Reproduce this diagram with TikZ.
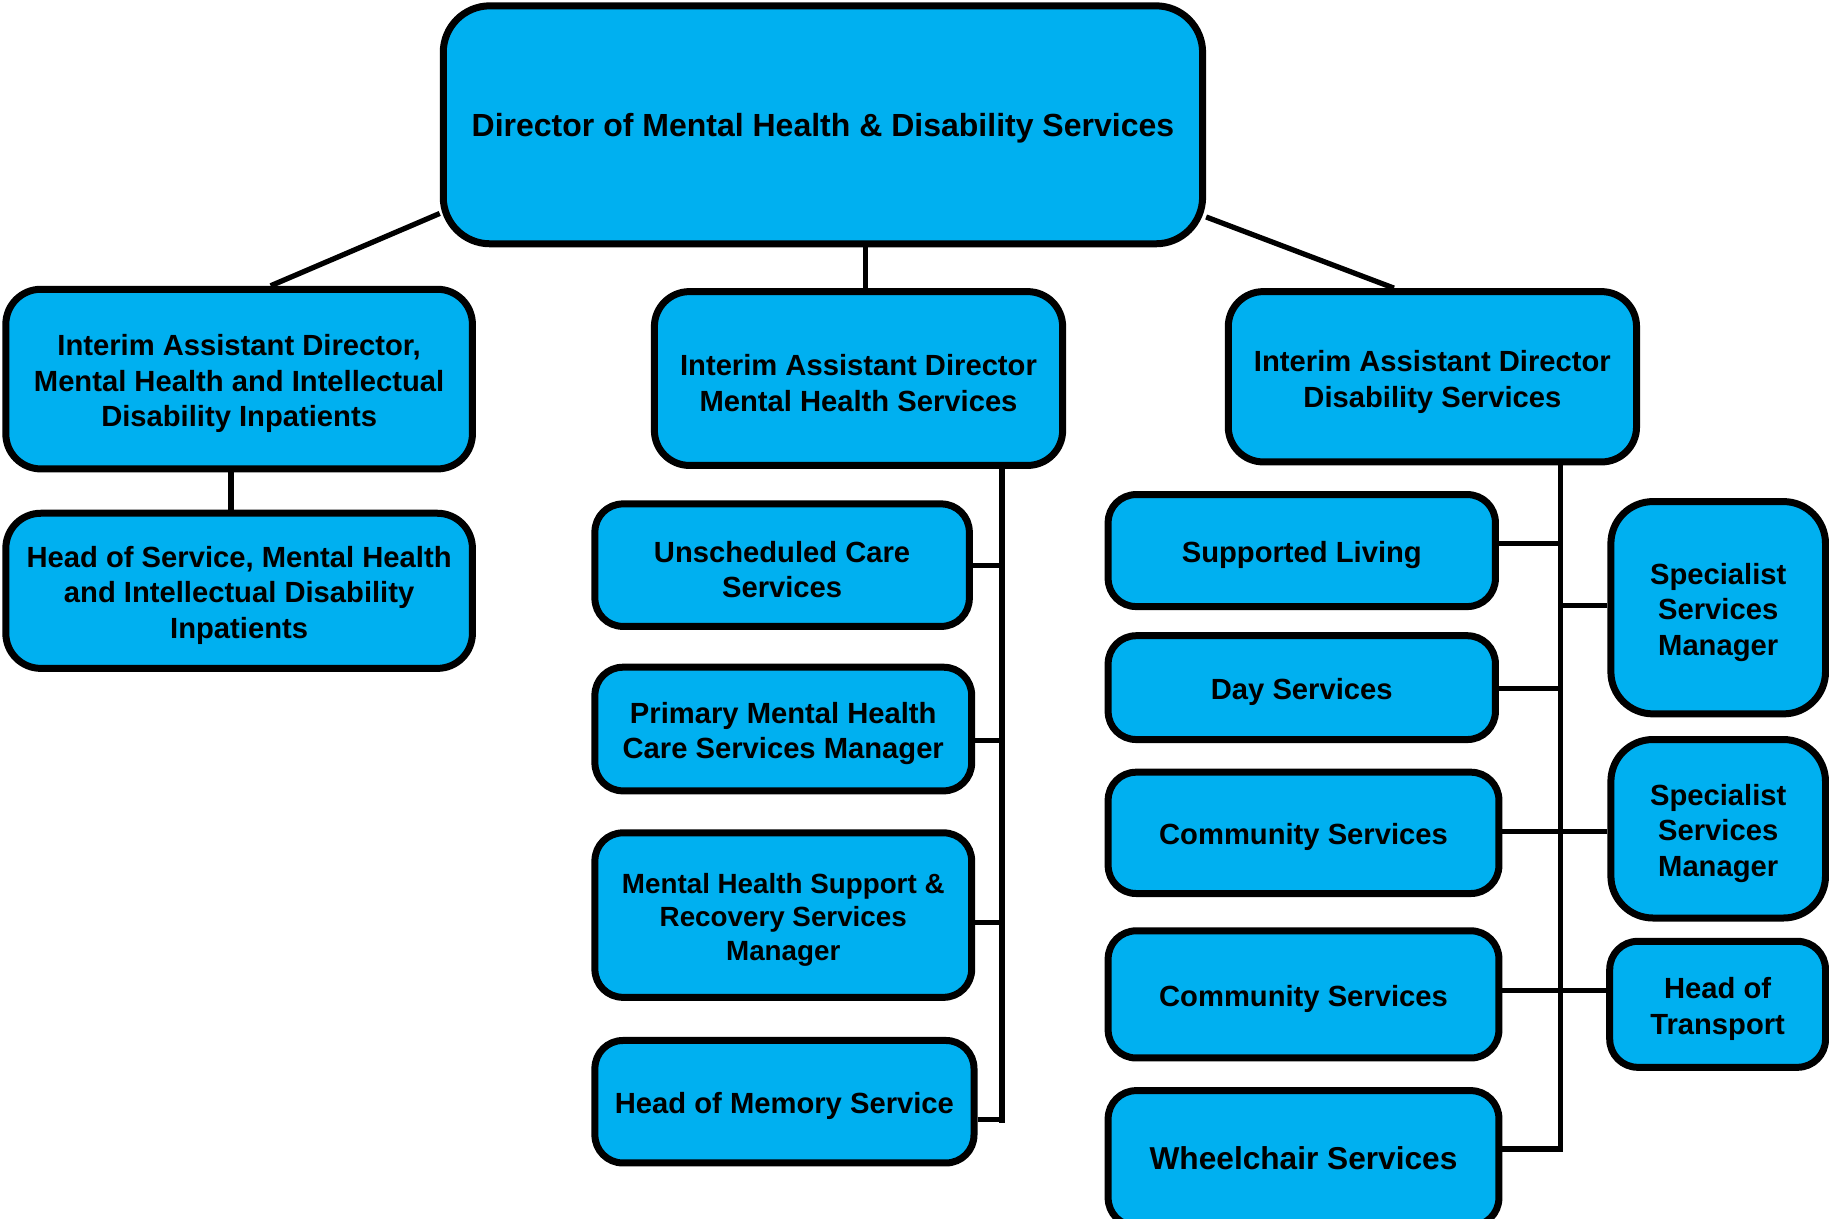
\documentclass[tikz,border=0pt]{standalone}
\usepackage{fontspec}
\setmainfont{Liberation Sans}
\usepackage{xcolor}
\definecolor{orgblue}{RGB}{0,176,240}
\newlength\gridu
\setlength\gridu{0.011665cm}
\newcommand\uplift[1][8.6pt]{\rule{0pt}{#1}}

\begin{document}
\begin{tikzpicture}[x=0.011665cm, y=-0.011665cm,
  role/.style={draw, fill=orgblue, line width=6\gridu, rounded corners=24\gridu, inner sep=0pt, align=center, font=\bfseries\fontsize{8.3}{10.1}\selectfont},
  link/.style={line width=4.5\gridu}]
\useasboundingbox (0,0) rectangle (1568,1045);
\node[role, minimum width=651\gridu, minimum height=204\gridu, rounded corners=40\gridu, font=\bfseries\fontsize{9.1}{11}\selectfont] (dir) at (705.5,107) {\uplift[8.8pt]Director of Mental Health \& Disability Services};
\node[role, minimum width=400\gridu, minimum height=154\gridu, rounded corners=30\gridu] (ipt) at (205,325) {\uplift Interim Assistant Director,\\Mental Health and Intellectual\\Disability Inpatients};
\node[role, minimum width=400\gridu, minimum height=133\gridu, rounded corners=30\gridu] (hos) at (205,506.5) {\uplift Head of Service, Mental Health\\and Intellectual Disability\\Inpatients};
\node[role, minimum width=350\gridu, minimum height=149\gridu, rounded corners=30\gridu] (mhs) at (736,324.5) {\uplift Interim Assistant Director\\Mental Health Services};
\node[role, minimum width=350\gridu, minimum height=146\gridu, rounded corners=30\gridu] (dis) at (1228,323) {\uplift[9pt]Interim Assistant Director\\Disability Services};
% mental health services
\node[role, minimum width=321\gridu, minimum height=105\gridu] (usc) at (670.5,484.5) {\uplift Unscheduled Care\\Services};
\node[role, minimum width=323\gridu, minimum height=106\gridu] (pmh) at (671.5,625) {\uplift Primary Mental Health\\Care Services Manager};
\node[role, minimum width=323\gridu, minimum height=141\gridu, font=\bfseries\fontsize{7.9}{9.6}\selectfont] (rec) at (671.5,784.5) {\uplift[8.4pt]Mental Health Support \&\\Recovery Services\\Manager};
\node[role, minimum width=325\gridu, minimum height=105\gridu] (mem) at (672.5,944.5) {\uplift Head of Memory Service};
% disability services
\node[role, minimum width=332\gridu, minimum height=96\gridu] (sup) at (1116,472) {\uplift Supported Living};
\node[role, minimum width=332\gridu, minimum height=89\gridu] (day) at (1116,589.5) {\uplift Day Services};
\node[role, minimum width=335\gridu, minimum height=104\gridu] (comA) at (1117.5,714) {\uplift Community Services};
\node[role, minimum width=335\gridu, minimum height=109\gridu] (comB) at (1117.5,852.5) {\uplift Community Services};
\node[role, minimum width=335\gridu, minimum height=116\gridu, font=\bfseries\fontsize{9}{11}\selectfont] (whc) at (1117.5,993) {Wheelchair Services};
\node[role, minimum width=184\gridu, minimum height=182\gridu, rounded corners=36\gridu] (ssmA) at (1473,521) {\uplift Specialist\\Services\\Manager};
\node[role, minimum width=184\gridu, minimum height=153\gridu, rounded corners=36\gridu] (ssmB) at (1473,710.5) {\uplift Specialist\\Services\\Manager};
\node[role, minimum width=185\gridu, minimum height=108\gridu] (hot) at (1472.5,861) {\uplift Head of\\Transport};
\coordinate (ljoin) at (198,0);
\coordinate (mjoin) at (742,0);
\coordinate (mbus) at (859,963);
\coordinate (rbus) at (1338,985);
\draw[link] ([yshift=29\gridu]dir.south west) -- ([xshift=27\gridu]ipt.north);
\draw[link] ([yshift=26\gridu]dir.south east) -- ([xshift=-33\gridu]dis.north);
\draw[link] (dir.south -| mjoin) -- (mhs.north -| mjoin);
\draw[link] (ipt.south -| ljoin) -- (hos.north -| ljoin);
\draw[link] (mhs.south -| mbus) -- (mbus);
\foreach \n/\y in {usc/485, pmh/635, rec/791, mem/960}
  \draw[link] (\n.east |- 0,\y) -- (mbus |- 0,\y);
\draw[link] (dis.south -| rbus) |- (whc.east |- rbus);
\foreach \n/\y in {sup/466, day/590, comA/713, comB/849}
  \draw[link] (\n.east |- 0,\y) -- (rbus |- 0,\y);
\foreach \n/\y in {ssmA/519, ssmB/713, hot/849}
  \draw[link] (\n.west |- 0,\y) -- (rbus |- 0,\y);
\end{tikzpicture}
\end{document}
